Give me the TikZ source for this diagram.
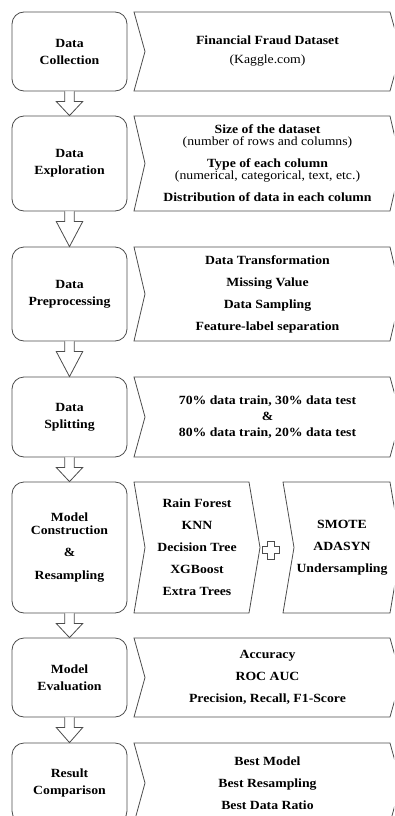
\documentclass[tikz,border=0pt]{standalone}
\usepackage{fontspec}
\setmainfont{Liberation Serif}[FakeStretch=1.1]
\usetikzlibrary{calc}

% chevron outline: name, left x, right x, top y, bottom y
\newcommand{\chevron}[5]{%
  \draw[chevline] (#2,#4) -- (#3,#4) -- (#3+11,{(#4+#5)/2}) -- (#3,#5) -- (#2,#5) -- (#2+11,{(#4+#5)/2}) -- cycle;
  \coordinate (#1) at ({(#2+11+#3)/2},{(#4+#5)/2});}

% hollow arrow from one stage down to the next
\newcommand{\flowdown}[2]{%
  \draw[flowarrow] ($(#1.south)+(-4.7,0)$) -- ($(#1.south)+(-4.7,10)$) -- ($(#1.south)+(-13.3,10)$)
    -- (#2.north) -- ($(#1.south)+(13.3,10)$) -- ($(#1.south)+(4.7,10)$) -- ($(#1.south)+(4.7,0)$);}

\begin{document}
\begin{tikzpicture}[x=1pt,y=-1pt,
    every node/.style={font=\fontsize{12.5}{22}\selectfont\bfseries, align=center, inner sep=0pt},
    stage/.style={draw=black!70, line width=0.8pt, rounded corners=12pt, minimum width=115pt,
      font=\fontsize{12.5}{17}\selectfont\bfseries},
    chevline/.style={draw=black!70, line width=0.8pt, line join=miter},
    flowarrow/.style={draw=black!70, line width=0.8pt, fill=white}]
  \useasboundingbox (0,0) rectangle (394,816);
  \clip (0,0) rectangle (394,816);

  % stages
  \node[stage, minimum height=79pt] (s1) at (69.5,51.5) {Data\\Collection};
  \node[stage, minimum height=95pt] (s2) at (69.5,163.5) {Data\\Exploration};
  \node[stage, minimum height=94pt] (s3) at (69.5,294) {Data\\Preprocessing};
  \node[stage, minimum height=80pt] (s4) at (69.5,417) {Data\\Splitting};
  \node[stage, minimum height=131pt] (s5) at (69.5,547.5) {Model\\[-4pt]Construction\\[5pt]\&\\[6pt]Resampling};
  \node[stage, minimum height=79pt] (s6) at (69.5,677.5) {Model\\Evaluation};
  \node[stage, minimum height=80pt] (s7) at (69.5,783) {Result\\Comparison};

  \foreach \a/\b in {s1/s2,s2/s3,s3/s4,s4/s5,s5/s6,s6/s7}
    \flowdown{\a}{\b};

  % details
  \chevron{c1}{134}{390}{12}{91}
  \node (t1) at (c1) {Financial Fraud Dataset\\[-3pt]{\mdseries (Kaggle.com)}};
  \chevron{c2}{134}{390}{116}{211}
  \node (t2) at (c2) {Size of the dataset\\[-10pt]{\mdseries (number of rows and columns)}\\
    Type of each column\\[-10pt]{\mdseries (numerical, categorical, text, etc.)}\\Distribution of data in each column};
  \chevron{c3}{134}{390}{247}{341}
  \node (t3) at (c3) {Data Transformation\\Missing Value\\Data Sampling\\Feature-label separation};
  \chevron{c4}{134}{390}{377}{457}
  \node (t4) at (c4) {70\% data train, 30\% data test\\[-6pt]\&\\[-6pt]80\% data train, 20\% data test};
  \chevron{c5}{134}{249}{482}{613}
  \node (t5) at (c5) {Rain Forest\\KNN\\Decision Tree\\XGBoost\\Extra Trees};
  \chevron{c6}{283}{390}{482}{613}
  \node (t6) at (c6) {SMOTE\\ADASYN\\Undersampling};
  \chevron{c7}{134}{390}{638}{717}
  \node (t7) at (c7) {Accuracy\\ROC AUC\\Precision, Recall, F1-Score};
  \chevron{c8}{134}{390}{743}{823}
  \node (t8) at (c8) {Best Model\\Best Resampling\\Best Data Ratio};

  % plus sign between the two chevrons
  \coordinate (plus) at (271,550);
  \draw[flowarrow] ($(plus)+(-3.2,-9)$) -- ($(plus)+(3.2,-9)$) -- ($(plus)+(3.2,-3.2)$) -- ($(plus)+(8.5,-3.2)$)
    -- ($(plus)+(8.5,3.2)$) -- ($(plus)+(3.2,3.2)$) -- ($(plus)+(3.2,9)$) -- ($(plus)+(-3.2,9)$)
    -- ($(plus)+(-3.2,3.2)$) -- ($(plus)+(-8.5,3.2)$) -- ($(plus)+(-8.5,-3.2)$) -- ($(plus)+(-3.2,-3.2)$) -- cycle;
\end{tikzpicture}
\end{document}
